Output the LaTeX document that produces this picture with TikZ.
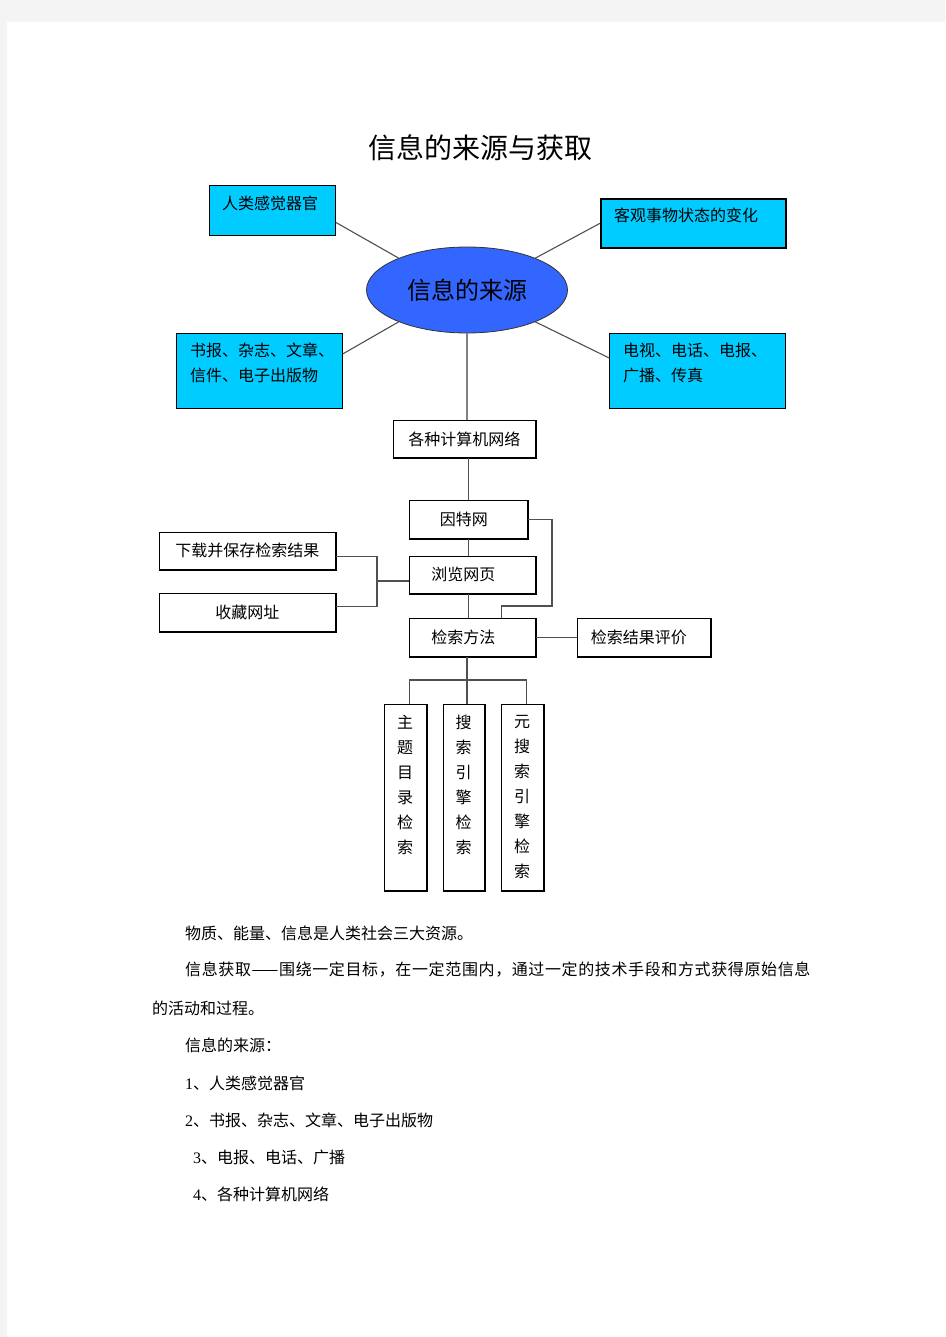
\documentclass[tikz,border=0pt]{standalone}
\usepackage{fontspec}
\setmainfont{Noto Sans CJK SC}
\newfontfamily\numfont{Liberation Serif}
\usetikzlibrary{shapes.geometric}
\definecolor{ciano}{HTML}{00CCFF}
\definecolor{azulfonte}{HTML}{3366FF}
\definecolor{fundo}{HTML}{F4F4F4}
\definecolor{linha}{HTML}{505050}

\begin{document}
\begin{tikzpicture}[x=1pt, y=-1pt,
  texto/.style = {inner sep=0pt, font=\fontsize{16pt}{25pt}\selectfont},
  caixa/.style = {draw=black, fill=ciano, line width=0.8pt, inner sep=0pt, anchor=north west},
  bloco/.style = {draw=black, fill=white, line width=0.8pt, inner sep=0pt, anchor=north west, font=\fontsize{16pt}{25pt}\selectfont},
  ligacao/.style = {draw=linha, line width=1.1pt}]

\fill[fundo] (0,0) rectangle (945,1337);
\fill[white] (7,22) rectangle (945,1337);
\useasboundingbox (0,0) rectangle (945,1337);

\node[inner sep=0pt, font=\fontsize{28pt}{28pt}\selectfont] (titulo) at (480,148) {信息的来源与获取};

% fontes de informacao
\node[caixa, minimum width=126pt, minimum height=50pt] (sentidos) at (209,185) {};
\node[texto, anchor=west] (sentidos-txt) at (222,203) {人类感觉器官};
\node[caixa, line width=1.6pt, minimum width=185pt, minimum height=49pt] (objetos) at (600,198) {};
\node[texto, anchor=west] (objetos-txt) at (614,215) {客观事物状态的变化};
\node[caixa, minimum width=166pt, minimum height=75pt] (impressos) at (176,333) {};
\node[texto, anchor=north west, align=left] (impressos-txt) at (190,343) {书报、杂志、文章、\\信件、电子出版物};
\node[caixa, minimum width=176pt, minimum height=75pt] (telecom) at (609,333) {};
\node[texto, anchor=north west, align=left] (telecom-txt) at (623,343) {电视、电话、电报、\\广播、传真};

\node[ellipse, draw=black!80, fill=azulfonte, line width=0.8pt, minimum width=201pt, minimum height=86pt, inner sep=0pt, font=\fontsize{24pt}{24pt}\selectfont] (fonte) at (467,290) {信息的来源};

\draw[ligacao] ([yshift=-12pt]sentidos.east) -- (fonte.155);
\draw[ligacao] (objetos.west) -- (fonte.25);
\draw[ligacao] ([yshift=17pt]impressos.east) -- (fonte.205);
\draw[ligacao] ([yshift=13pt]telecom.west) -- (fonte.335);

% rede
\node[bloco, minimum width=142pt, minimum height=37pt] (redes) at (393,420) {各种计算机网络};
\node[bloco, minimum width=118pt, minimum height=38pt] (internet) at (409,500) {因特网\kern9pt};
\node[bloco, minimum width=126pt, minimum height=37pt] (navegar) at (409,556) {浏览网页\kern18pt};
\node[bloco, minimum width=176pt, minimum height=37pt] (baixar) at (159,532) {下载并保存检索结果};
\node[bloco, minimum width=176pt, minimum height=38pt] (favoritos) at (159,593) {收藏网址};
\node[bloco, minimum width=126pt, minimum height=38pt] (metodos) at (409,618) {检索方法\kern18pt};
\node[bloco, minimum width=133pt, minimum height=38pt] (avaliar) at (577,618) {检索结果评价\kern10pt};

\node[bloco, minimum width=42pt, minimum height=186pt] (tema) at (384,704) {};
\node[bloco, minimum width=41pt, minimum height=186pt] (busca) at (443,704) {};
\node[bloco, minimum width=42pt, minimum height=186pt] (meta) at (501,704) {};
\node[texto, anchor=north, align=center] (tema-txt) at (405,715) {主\\题\\目\\录\\检\\索};
\node[texto, anchor=north, align=center] (busca-txt) at (463.5,715) {搜\\索\\引\\擎\\检\\索};
\node[texto, anchor=north, align=center] (meta-txt) at (522,715) {元\\搜\\索\\引\\擎\\检\\索};

\foreach \n in {redes,internet,navegar,baixar,favoritos,metodos,avaliar,tema,busca,meta}
  \draw[line width=1.4pt] (\n.north east) -- (\n.south east) -- (\n.south west);

\coordinate (juncao) at (377,581);
\coordinate (desvio) at (552,606);
\coordinate (garfo) at (467,680);

\draw[ligacao, draw=gray] (fonte.south) -- (fonte.south |- redes.north);
\draw[ligacao] (internet.north |- redes.south) -- (internet.north);
\draw[ligacao] (internet.south) -- (internet.south |- navegar.north);
\draw[ligacao] (internet.south |- navegar.south) -- (internet.south |- metodos.north);
\draw[ligacao] ([yshift=-6pt]baixar.east) -| (juncao) |- ([yshift=6pt]favoritos.east);
\draw[ligacao] (juncao) -- (juncao -| navegar.west);
\draw[ligacao] (internet.east) -| (desvio) -| ([xshift=29pt]metodos.north);
\draw[ligacao] (metodos.east) -- (avaliar.west);
\draw[ligacao] (garfo |- metodos.south) -- (garfo);
\draw[ligacao] ([xshift=4pt]tema.north) |- (garfo) -| ([xshift=4pt]meta.north);
\draw[ligacao] (garfo) -- (garfo |- busca.north);

% texto
\node[texto, anchor=west] (linha1) at (185,933) {物质、能量、信息是人类社会三大资源。};
\node[texto, anchor=west] (linha2) at (185,970) {\addfontfeature{LetterSpace=3.9}信息获取——围绕一定目标，在一定范围内，通过一定的技术手段和方式获得原始信息};
\node[texto, anchor=west] (linha3) at (152,1008) {的活动和过程。};
\node[texto, anchor=west] (linha4) at (185,1045) {信息的来源：};
\node[texto, anchor=west] (linha5) at (185,1083) {{\numfont 1}、人类感觉器官};
\node[texto, anchor=west] (linha6) at (185,1120) {{\numfont 2}、书报、杂志、文章、电子出版物};
\node[texto, anchor=west] (linha7) at (193,1157) {{\numfont 3}、电报、电话、广播};
\node[texto, anchor=west] (linha8) at (193,1194) {{\numfont 4}、各种计算机网络};
\end{tikzpicture}
\end{document}
